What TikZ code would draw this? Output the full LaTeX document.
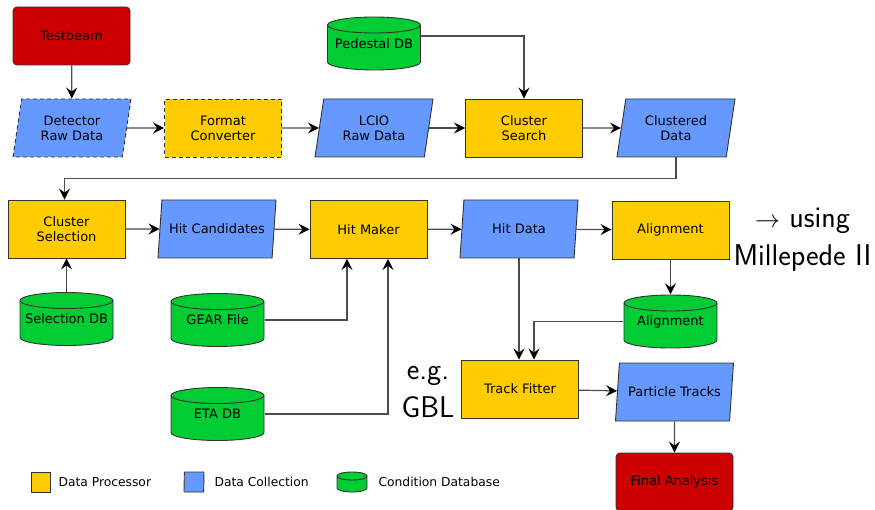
\documentclass[tikz,border=0pt]{standalone}
\usepackage{fontspec}
\setmainfont{DejaVu Sans}
\usetikzlibrary{shapes.geometric,arrows.meta}
\definecolor{procyellow}{HTML}{FFCC00}
\definecolor{collblue}{HTML}{6699FF}
\definecolor{dbgreen}{HTML}{00CC33}
\definecolor{termred}{HTML}{CC0000}
% drum outline, #1 x radius, #2 y radius of the lids (pt)
\newcommand{\drumpath}[2]{%
	\filldraw[draw=black!80, line width=0.9pt, fill=dbgreen]
		([xshift=0.5pt, yshift=-#2pt-0.5pt]path picture bounding box.north west)
		-- ([xshift=0.5pt, yshift=#2pt+0.5pt]path picture bounding box.south west)
		arc[start angle=180, end angle=360, x radius=#1pt, y radius=#2pt]
		-- ([xshift=-0.5pt, yshift=-#2pt-0.5pt]path picture bounding box.north east)
		arc[start angle=0, end angle=180, x radius=#1pt, y radius=#2pt] -- cycle;
	\draw[draw=black!80, line width=0.9pt]
		([xshift=0.5pt, yshift=-#2pt-0.5pt]path picture bounding box.north west)
		arc[start angle=180, end angle=360, x radius=#1pt, y radius=#2pt];
}
\tikzset{
	base/.style={draw=black!80, line width=0.9pt, font=\fontsize{13}{15}\selectfont, align=center, inner sep=1pt},
	proc/.style={base, rectangle, fill=procyellow, minimum width=117pt, minimum height=58pt},
	coll/.style={base, trapezium, trapezium left angle=72, trapezium right angle=108, trapezium stretches body, fill=collblue, minimum width=118pt, minimum height=58pt},
	cond/.style={rectangle, font=\fontsize{13}{15}\selectfont, inner sep=1pt, minimum width=94pt, minimum height=54pt, path picture={\drumpath{46.5}{8}}},
	term/.style={base, rectangle, rounded corners=4pt, fill=termred, minimum width=117pt, minimum height=58pt},
	pending/.style={dash pattern=on 4pt off 3pt},
	arr/.style={draw=black!70, line width=1.2pt, -{Stealth[length=11pt,width=11pt,inset=4pt,color=black]}},
	note/.style={font=\sffamily\fontsize{30}{38}\selectfont, align=center},
	legtext/.style={anchor=west, font=\fontsize{12.3}{15}\selectfont}
}
\begin{document}
\begin{tikzpicture}[x=1pt, y=-1pt]
		\useasboundingbox (0,0) rectangle (875,510);
		\node[term] (testbeam) at (71.5,36) {Testbeam};
		\node[coll, pending] (detraw) at (72,128) {Detector\\Raw Data};
		\node[proc, pending] (converter) at (223,128) {Format\\Converter};
		\node[coll] (lcioraw) at (374,128) {LCIO\\Raw Data};
		\node[proc] (csearch) at (524,128) {Cluster\\Search};
		\node[coll] (cdata) at (676,128) {Clustered\\Data};
		\node[cond] (pedestal) at (374,43.5) {Pedestal DB};
		\node[proc] (csel) at (66.5,229) {Cluster\\Selection};
		\node[coll] (hitcand) at (217,229) {Hit Candidates};
		\node[proc] (hitmaker) at (368.5,229.5) {Hit Maker};
		\node[coll] (hitdata) at (519,229) {Hit Data};
		\node[proc] (align) at (670.5,230) {Alignment};
		\node[note] (millenote) at (802.5,240) {$\rightarrow$ using\\Millepede II};
		\node[cond] (seldb) at (66.5,319) {Selection DB};
		\node[cond] (gear) at (217.5,320) {GEAR File};
		\node[cond] (etadb) at (217.5,414) {ETA DB};
		\node[cond] (aligndb) at (670.5,321.5) {Alignment};
		\node[proc] (fitter) at (520,389) {Track Fitter};
		\node[note] (gblnote) at (428,392) {e.g.\\GBL};
		\node[coll] (tracks) at (674.5,392) {Particle Tracks};
		\node[term] (final) at (674.5,482) {Final Analysis};
		\coordinate (pedtap) at ([yshift=7.5pt]pedestal.center);
		\draw[arr] (testbeam) -- (detraw);
		\draw[arr] (detraw) -- (converter);
		\draw[arr] (converter) -- (lcioraw);
		\draw[arr] (lcioraw) -- (csearch);
		\draw[arr] (csearch) -- (cdata);
		\draw[arr] (pedtap -| pedestal.east) -| (csearch);
		\draw[arr] (cdata.south) -- ++(0,21) -| ([xshift=-2pt]csel.north);
		\draw[arr] (csel) -- (hitcand);
		\draw[arr] (hitcand) -- (hitmaker);
		\draw[arr] (hitmaker) -- (hitdata);
		\draw[arr] (hitdata) -- (align);
		\draw[arr] (seldb) -- (csel);
		\draw[arr] (gear.east) -| ([xshift=-21.5pt]hitmaker.south);
		\draw[arr] (etadb.east) -| ([xshift=19.5pt]hitmaker.south);
		\draw[arr] (hitdata.south) -- (hitdata.south |- fitter.north);
		\draw[arr] (align) -- (aligndb);
		\draw[arr] (aligndb.west) -| ([xshift=14pt]fitter.north);
		\draw[arr] (fitter) -- (tracks);
		\draw[arr] (tracks) -- (final);
		\node[base, rectangle, fill=procyellow, minimum width=19pt, minimum height=20pt] (legproc) at (40.5,482) {};
		\node[legtext] (legproctext) at (55,482) {Data Processor};
		\node[base, trapezium, trapezium left angle=80, trapezium right angle=100, trapezium stretches body, fill=collblue, minimum width=20pt, minimum height=20pt] (legcoll) at (194,482) {};
		\node[legtext] (legcolltext) at (211,482) {Data Collection};
		\node[rectangle, inner sep=0pt, minimum width=31pt, minimum height=21pt, path picture={\drumpath{15}{4}}] (legcond) at (352,482) {};
		\node[legtext] (legcondtext) at (375,482) {Condition Database};
\end{tikzpicture}
\end{document}
